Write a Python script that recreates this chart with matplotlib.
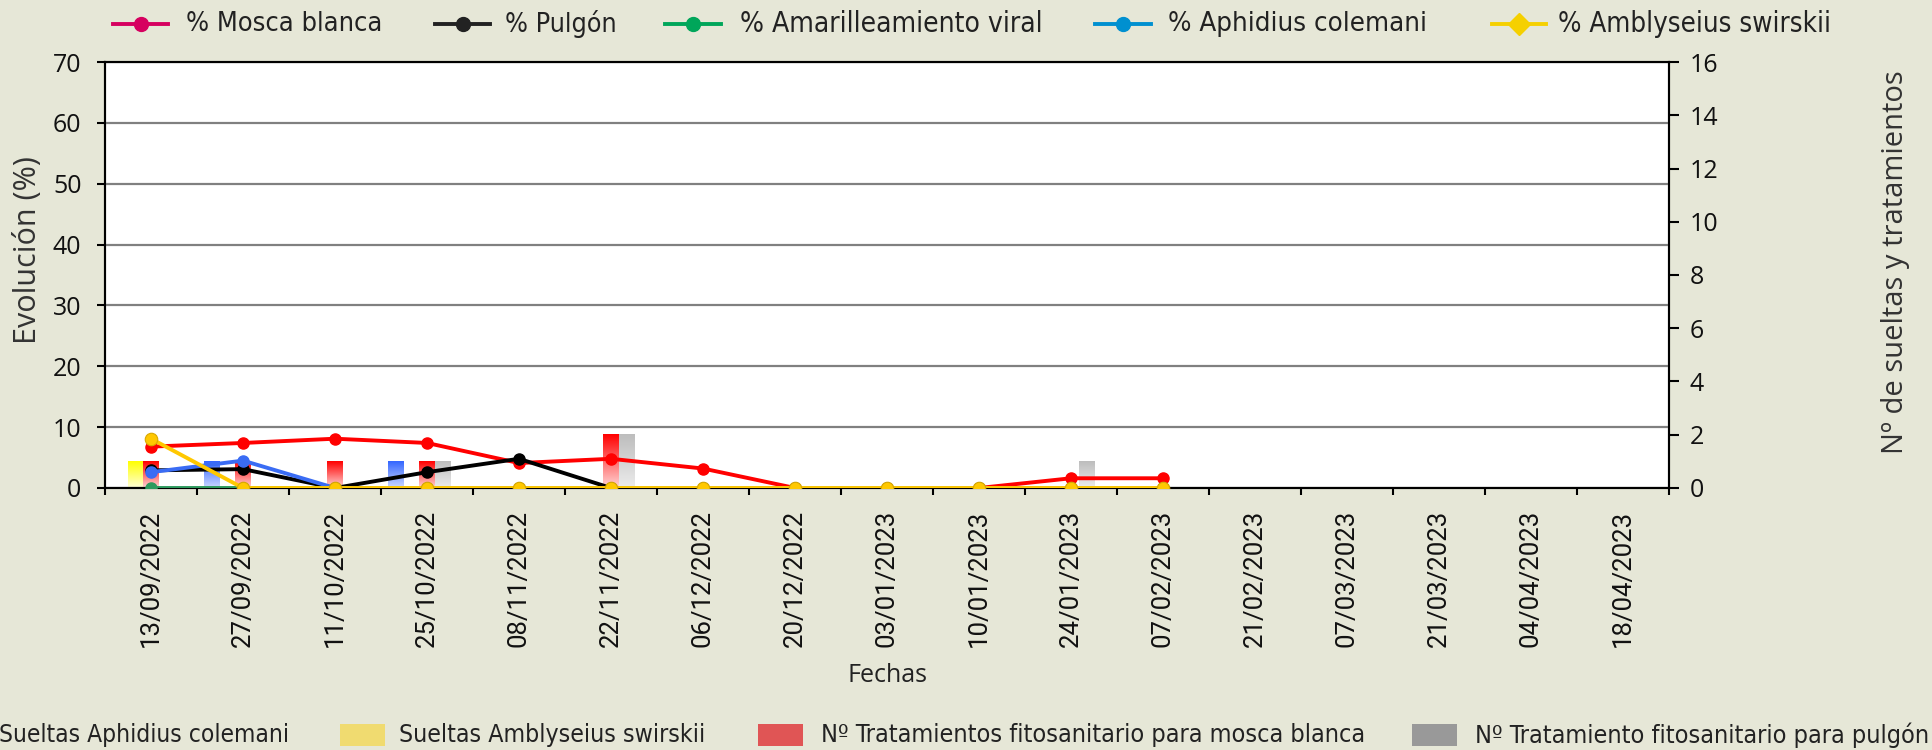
import numpy as np
import matplotlib
matplotlib.use("Agg")
import matplotlib.pyplot as plt
from matplotlib.colors import LinearSegmentedColormap
from matplotlib.lines import Line2D
from matplotlib.patches import Rectangle

# ---------------- data ----------------
fechas = ["13/09/2022", "27/09/2022", "11/10/2022", "25/10/2022", "08/11/2022",
          "22/11/2022", "06/12/2022", "20/12/2022", "03/01/2023", "10/01/2023",
          "24/01/2023", "07/02/2023", "21/02/2023", "07/03/2023", "21/03/2023",
          "04/04/2023", "18/04/2023"]
nan = np.nan
mosca_blanca = [6.8, 7.4, 8.1, 7.4, 4.1, 4.8, 3.2, 0, 0, 0, 1.6, 1.6, nan, nan, nan, nan, nan]
pulgon = [2.9, 3.1, 0, 2.6, 4.8, 0, 0, 0, 0, 0, 0, 0, nan, nan, nan, nan, nan]
amarilleamiento = [0, 0, 0, 0, 0, 0, 0, 0, 0, 0, 0, 0, nan, nan, nan, nan, nan]
aphidius = [2.6, 4.5, 0, 0, 0, 0, 0, 0, 0, 0, 0, 0, nan, nan, nan, nan, nan]
amblyseius = [8.1, 0, 0, 0, 0, 0, 0, 0, 0, 0, 0, 0, nan, nan, nan, nan, nan]

sueltas_aphidius = [0, 1, 0, 1, 0, 0, 0, 0, 0, 0, 0, 0, 0, 0, 0, 0, 0]
sueltas_amblyseius = [1, 0, 0, 0, 0, 0, 0, 0, 0, 0, 0, 0, 0, 0, 0, 0, 0]
trat_mosca = [1, 1, 1, 1, 0, 2, 0, 0, 0, 0, 0, 0, 0, 0, 0, 0, 0]
trat_pulgon = [0, 0, 0, 1, 0, 2, 0, 0, 0, 0, 1, 0, 0, 0, 0, 0, 0]

line_labels = ["% Mosca blanca", "% Pulgón", "% Amarilleamiento viral",
               "% Aphidius colemani", "% Amblyseius swirskii"]
bar_labels = ["Sueltas Aphidius colemani", "Sueltas Amblyseius swirskii",
              "Nº Tratamientos fitosanitario para mosca blanca",
              "Nº Tratamiento fitosanitario para pulgón"]

# ---------------- style ----------------
BG = "#e6e7d7"
W, H = 1932, 750
fig = plt.figure(figsize=(W / 100, H / 100), dpi=100, facecolor=BG)
renderer = fig.canvas.get_renderer()

L, R, T, B = 105, 1669, 62, 488
ax2 = fig.add_axes([L / W, 1 - B / H, (R - L) / W, (B - T) / H])
ax = ax2.twinx()
ax2.yaxis.tick_right()
ax2.yaxis.set_label_position("right")
ax.yaxis.tick_left()
ax.yaxis.set_label_position("left")
ax.set_zorder(ax2.get_zorder() + 1)
ax.patch.set_visible(False)
ax2.set_facecolor("white")

x = np.arange(len(fechas))
w = 0.17

# bars with vertical gradients
bar_series = [
    (sueltas_aphidius, -2 * w, "#3366ff", "#ccd8ff"),
    (sueltas_amblyseius, -1 * w, "#ffff00", "#ffffd8"),
    (trat_mosca, 0.0, "#ff0000", "#ffd6d6"),
    (trat_pulgon, 1 * w, "#bdbdbd", "#ececec"),
]
for vals, off, ctop, cbot in bar_series:
    rects = ax2.bar(x + off, vals, width=w, align="center", color=ctop, linewidth=0)
    cmap = LinearSegmentedColormap.from_list("g", [cbot, ctop])
    img = np.linspace(0, 1, 128).reshape(-1, 1)
    for r in rects:
        h = r.get_height()
        if h > 0:
            ax2.imshow(img, extent=[r.get_x(), r.get_x() + r.get_width(), 0, h],
                       origin="lower", cmap=cmap, aspect="auto", zorder=2,
                       interpolation="bilinear")
        r.set_visible(False)

ax2.set_xlim(-0.5, len(fechas) - 0.5)
ax2.set_ylim(0, 16)
ax2.set_yticks(np.arange(0, 17, 2))

# lines
lw = 2.8
ms = 8
ax.plot(x, mosca_blanca, color="#ff0000", lw=lw, marker="o", ms=ms, zorder=3)
ax.plot(x, pulgon, color="#000000", lw=lw, marker="o", ms=ms, zorder=4)
ax.plot(x, amarilleamiento, color="#2e9a5e", lw=lw, marker="o", ms=ms, zorder=5)
ax.plot(x, aphidius, color="#3a6cf4", lw=lw, marker="o", ms=ms, zorder=6)
ax.plot(x, amblyseius, color="#ffc800", lw=lw, marker="o", ms=ms + 1,
        markeredgecolor="#d9a800", markeredgewidth=0.8, zorder=7)

ax.set_xlim(-0.5, len(fechas) - 0.5)
ax.set_ylim(0, 70)
ax.set_yticks(np.arange(0, 71, 10))
ax.grid(axis="y", color="#808080", lw=1.6, zorder=1)
ax.set_axisbelow(True)

# x ticks
ax2.set_xticks(x)
ax2.set_xticklabels(fechas, rotation=90, fontsize=18.5, family=["Roboto", "DejaVu Sans"],
                    va="top", ha="center", color="#111111")
ax2.tick_params(axis="x", which="major", length=0, pad=16)
ax2.set_xticks(np.arange(-0.5, len(fechas), 1), minor=True)
ax2.tick_params(axis="x", which="minor", length=5, width=1.5, direction="out", color="black")
ax.tick_params(axis="x", which="both", length=0, labelbottom=False)

for a in (ax, ax2):
    for s in a.spines.values():
        s.set_color("black")
        s.set_linewidth(1.5)

tickfont = ["Open Sans", "DejaVu Sans"]
ax.tick_params(axis="y", length=6, width=1.5, pad=11, labelsize=18, direction="out",
               labelcolor="#111111")
ax2.tick_params(axis="y", length=7, width=1.5, pad=8, labelsize=18, direction="out",
                labelcolor="#111111")
for lab in ax.get_yticklabels() + ax2.get_yticklabels():
    lab.set_family(tickfont)

fig.text(28 / W, 1 - 250 / H, "Evolución (%)", rotation=90, fontsize=22,
         family=tickfont, ha="center", va="center", color="#333333")
fig.text(1895 / W, 1 - 262 / H, "Nº de sueltas y tratamientos", rotation=90, fontsize=21,
         family=tickfont, ha="center", va="center", color="#333333")
fig.text(888 / W, 1 - 675 / H, "Fechas", fontsize=18, family=tickfont,
         ha="center", va="center", color="#222222")


def fitted_text(xpx, ypx, s, target_w, size0, family):
    t = fig.text(xpx / W, 1 - ypx / H, s, fontsize=size0, family=family,
                 fontstretch="condensed", ha="left", va="center", color="#222222")
    bb = t.get_window_extent(renderer)
    if bb.width > 0:
        t.set_fontsize(min(size0 * 1.25, size0 * target_w / bb.width))
    return t


legfont = ["DejaVu Sans"]

# ---------------- top legend ----------------
ty = 24
top_items = [
    (line_labels[0], "#d6005f", "o", 113, 168, 186, 196),
    (line_labels[1], "#222222", "o", 435, 490, 505, 112),
    (line_labels[2], "#00a65a", "o", 665, 721, 740, 304),
    (line_labels[3], "#0090d0", "o", 1095, 1151, 1168, 258),
    (line_labels[4], "#f5d000", "D", 1492, 1546, 1558, 272),
]
for lab, col, mk, x0, x1, xt, tw in top_items:
    yf = 1 - ty / H
    fig.add_artist(Line2D([x0 / W, x1 / W], [yf, yf], transform=fig.transFigure,
                          color=col, lw=2.8))
    fig.add_artist(Line2D([(x0 + x1) / 2 / W], [yf], transform=fig.transFigure,
                          color=col, marker=mk, ms=10 if mk == "o" else 11, lw=0))
    fitted_text(xt, ty, lab, tw, 20, legfont)

# ---------------- bottom legend ----------------
bot_items = [
    (bar_labels[0], "#3b6cf0", -60, -16, -1, 289),
    (bar_labels[1], "#f0db70", 340, 385, 399, 306),
    (bar_labels[2], "#e05555", 758, 803, 821, 546),
    (bar_labels[3], "#999999", 1412, 1457, 1475, 454),
]
for lab, col, p0, p1, xt, tw in bot_items:
    fig.add_artist(Rectangle((p0 / W, 1 - 746 / H), (p1 - p0) / W, 22 / H,
                             transform=fig.transFigure, color=col, lw=0))
    fitted_text(xt, 735, lab, tw, 19, legfont)

fig.savefig("out.png", dpi=100, facecolor=BG)
